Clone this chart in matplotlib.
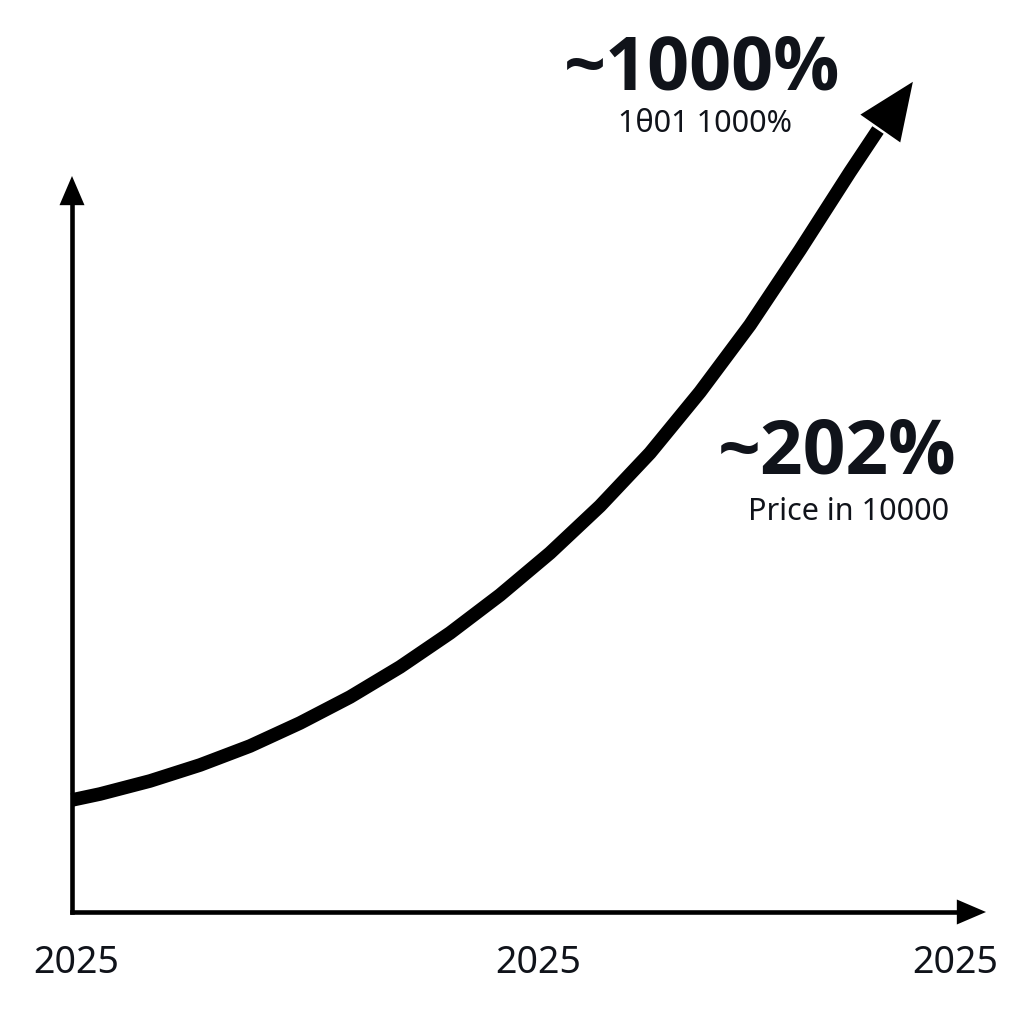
import matplotlib
matplotlib.use("Agg")
import matplotlib.pyplot as plt
from matplotlib import font_manager

plt.rcParams['font.family'] = ['Noto Sans', 'DejaVu Sans']

# Curve data (x: time progress 0-100, y: relative price 0-100 of axis height)
curve_x = [0.0, 3.06, 8.53, 14.0, 19.47, 24.95, 30.42, 35.89, 41.36, 46.83, 52.3, 57.77,
           63.24, 68.71, 74.18, 79.65, 85.12, 88.18]
curve_y = [15.22, 16.03, 17.80, 19.97, 22.55, 25.68, 29.21, 33.29, 37.91, 43.07, 48.78,
           55.16, 62.36, 70.65, 79.76, 89.95, 100.54, 106.25]
arrow_tip = (92.0, 112.8)

tick_positions = [0.44, 51.0, 96.6]
tick_labels = ["2025", "2025", "2025"]

text_color = "#10131a"

# pick a family that really has a bold face
names = {}
for f in font_manager.fontManager.ttflist:
    names.setdefault(f.name, []).append(f.weight)
bold_family = 'DejaVu Sans'
for cand in ['Noto Sans', 'Open Sans', 'Roboto', 'Lato']:
    ws = names.get(cand, [])
    if any((isinstance(w, int) and w >= 600) or w in ('bold', 'heavy', 'black', 'semibold', 'demibold') for w in ws):
        bold_family = cand
        break

fig = plt.figure(figsize=(10.24, 10.24), dpi=100)
ax = fig.add_axes([72 / 1024, 112 / 1024, 914 / 1024, 736 / 1024])
ax.set_xlim(0, 100)
ax.set_ylim(0, 100)
ax.axis('off')

# Axis lines
ax.plot([0, 97], [0, 0], color='black', lw=3.3, solid_capstyle='projecting', clip_on=False)
ax.plot([0, 0], [0, 96], color='black', lw=3.3, solid_capstyle='projecting', clip_on=False)
ax.annotate('', xy=(100, 0), xytext=(90, 0), xycoords='data',
            arrowprops=dict(arrowstyle='-|>,head_length=2.1,head_width=0.9',
                            mutation_scale=10, lw=0, color='black', shrinkA=0, shrinkB=0),
            annotation_clip=False)
ax.annotate('', xy=(0, 100), xytext=(0, 90), xycoords='data',
            arrowprops=dict(arrowstyle='-|>,head_length=2.1,head_width=0.9',
                            mutation_scale=10, lw=0, color='black', shrinkA=0, shrinkB=0),
            annotation_clip=False)

# Main curve
ax.plot(curve_x, curve_y, color='black', lw=9.8, solid_capstyle='butt',
        solid_joinstyle='round', clip_on=False)
ax.annotate('', xy=arrow_tip, xytext=(curve_x[-2], curve_y[-2]),
            arrowprops=dict(arrowstyle='-|>,head_length=4.1,head_width=1.75',
                            mutation_scale=10, lw=0, color='black', shrinkA=0, shrinkB=0),
            annotation_clip=False)

# Labels on x axis
for xp, lab in zip(tick_positions, tick_labels):
    ax.text(xp, -8.3, lab, ha='center', va='baseline', fontsize=27,
            color=text_color, clip_on=False)

# Annotations
ax.text(68.9, 111.7, "~1000%", ha='center', va='baseline', fontsize=53,
        fontweight='bold', family=[bold_family, 'DejaVu Sans'], color=text_color, clip_on=False)
ax.text(69.3, 106.0, "1θ01 1000%", ha='center', va='baseline', fontsize=22,
        color=text_color, clip_on=False)
ax.text(83.7, 59.6, "~202%", ha='center', va='baseline', fontsize=54,
        fontweight='bold', family=[bold_family, 'DejaVu Sans'], color=text_color, clip_on=False)
ax.text(85.0, 53.3, "Price in 10000", ha='center', va='baseline', fontsize=22,
        color=text_color, clip_on=False)

fig.savefig("out.png", dpi=100, facecolor='white')
